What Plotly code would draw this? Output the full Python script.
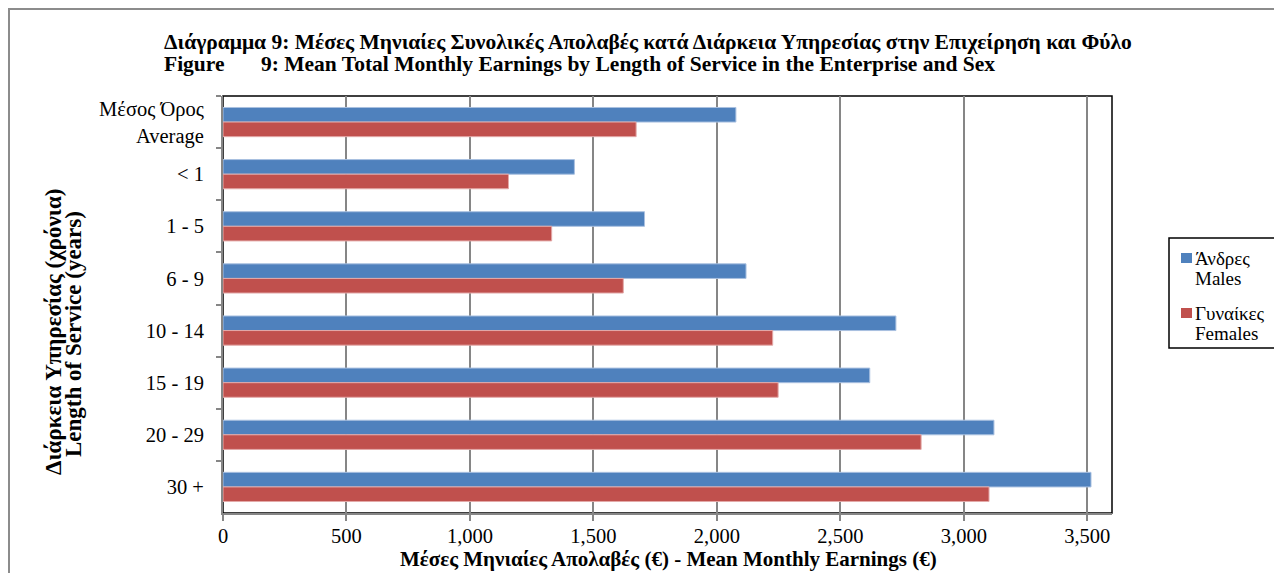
import plotly.graph_objects as go

# --------------------------------
# Data
# --------------------------------
CATEGORIES = ["Μέσος Όρος<br>Average", "< 1", "1 - 5", "6 - 9", "10 - 14", "15 - 19", "20 - 29", "30 +"]
MALES      = [2077, 1423, 1707, 2118, 2725, 2619, 3122, 3515]
FEMALES    = [1673, 1156, 1331, 1621, 2226, 2248, 2827, 3102]
X_TICKS    = [0, 500, 1000, 1500, 2000, 2500, 3000, 3500]
SERIES     = ["Άνδρες<br>Males", "Γυναίκες<br>Females"]

# --------------------------------
# Config
# --------------------------------
OFF = 8                      # page body margin
W, H = 1282 - OFF, 573 - OFF
L, R, T, B = 223 - OFF, W - (1112 - OFF), 96 - OFF, H - (513 - OFF)
FONT = "Liberation Serif"
GRID = "#868686"
BLUE = "#4F81BD"
RED  = "#C0504D"

PW = W - L - R
PH = H - T - B


def px_x(x):
    """page pixel x -> paper coordinate"""
    return (x - OFF - L) / PW


def px_y(y):
    """page pixel y -> paper coordinate"""
    return (H - B - (y - OFF)) / PH


fig = go.Figure()
fig.add_trace(go.Bar(
    name=SERIES[0], y=CATEGORIES, x=MALES, orientation="h",
    marker=dict(color=BLUE, line=dict(color="#a9c0e0", width=1)),
))
fig.add_trace(go.Bar(
    name=SERIES[1], y=CATEGORIES, x=FEMALES, orientation="h",
    marker=dict(color=RED, line=dict(color="#e3a9a8", width=1)),
))

# plot-area frame (black) and outer gray frame
fig.add_shape(type="rect", xref="paper", yref="paper", x0=0, x1=1, y0=0, y1=1,
              line=dict(color="black", width=1.5), layer="below")
fig.add_shape(type="rect", xref="paper", yref="paper",
              x0=px_x(OFF + 1), x1=px_x(1300), y0=px_y(600), y1=px_y(OFF + 1),
              line=dict(color="#8c8c8c", width=2), layer="below")

# title: two left-aligned lines
title_font = dict(family=FONT, size=21.5, color="black")
fig.add_annotation(x=px_x(162), y=px_y(42), xref="paper", yref="paper",
                   xanchor="left", yanchor="middle", showarrow=False,
                   text="<b>Διάγραμμα 9: Μέσες Μηνιαίες Συνολικές Απολαβές κατά Διάρκεια Υπηρεσίας στην Επιχείρηση και Φύλο</b>",
                   font=title_font)
fig.add_annotation(x=px_x(162), y=px_y(64), xref="paper", yref="paper",
                   xanchor="left", yanchor="middle", showarrow=False,
                   text="<b>Figure</b>", font=title_font)
fig.add_annotation(x=px_x(259), y=px_y(64), xref="paper", yref="paper",
                   xanchor="left", yanchor="middle", showarrow=False,
                   text="<b>9: Mean Total Monthly Earnings by Length of Service in the Enterprise and Sex</b>",
                   font=title_font)

# y-axis title (rotated, two lines)
ytitle_font = dict(family=FONT, size=23, color="black")
fig.add_annotation(x=px_x(53), y=px_y(332), xref="paper", yref="paper",
                   xanchor="center", yanchor="middle", showarrow=False, textangle=-90,
                   text="<b>Διάρκεια Υπηρεσίας (χρόνια)</b>", font=ytitle_font)
fig.add_annotation(x=px_x(73), y=px_y(334), xref="paper", yref="paper",
                   xanchor="center", yanchor="middle", showarrow=False, textangle=-90,
                   text="<b>Length of Service (years)</b>", font=ytitle_font)

# x-axis title
fig.add_annotation(x=px_x(668), y=px_y(559), xref="paper", yref="paper",
                   xanchor="center", yanchor="middle", showarrow=False,
                   text="<b>Μέσες Μηνιαίες Απολαβές (€) - Mean Monthly Earnings (€)</b>",
                   font=dict(family=FONT, size=21, color="black"))

# legend drawn by hand (box, swatches, two-line labels)
fig.add_shape(type="rect", xref="paper", yref="paper",
              x0=px_x(1169), x1=px_x(1276), y0=px_y(348), y1=px_y(238),
              line=dict(color="black", width=1.5), fillcolor="white")
for name, color, top in [(SERIES[0], BLUE, 253), (SERIES[1], RED, 308)]:
    fig.add_shape(type="rect", xref="paper", yref="paper",
                  x0=px_x(1181), x1=px_x(1192), y0=px_y(top + 10), y1=px_y(top),
                  line=dict(width=0), fillcolor=color)
    for i, line in enumerate(name.split("<br>")):
        fig.add_annotation(x=px_x(1193), y=px_y(top + 5 + i * 20), xref="paper", yref="paper",
                           xanchor="left", yanchor="middle", showarrow=False,
                           text=line, font=dict(family=FONT, size=19, color="black"))

fig.update_layout(
    width=W, height=H,
    margin=dict(l=L, r=R, t=T, b=B),
    paper_bgcolor="white", plot_bgcolor="white",
    barmode="group", bargap=0.44, bargroupgap=0,
    font=dict(family=FONT, size=20.5, color="black"),
    showlegend=False,
    xaxis=dict(
        range=[0, 3600], tickvals=X_TICKS, tickformat=",d",
        showgrid=True, gridcolor=GRID, gridwidth=1.5,
        zeroline=False,
        showline=True, linecolor=GRID, linewidth=2,
        ticks="outside", ticklen=6, tickcolor=GRID, tickwidth=1.5,
        ticklabelstandoff=-3,
        fixedrange=True,
    ),
    yaxis=dict(
        autorange="reversed", type="category",
        showgrid=False, zeroline=False,
        showline=True, linecolor=GRID, linewidth=2,
        ticks="outside", ticklen=5, tickcolor=GRID, tickwidth=1.5,
        tickson="boundaries", ticklabelstandoff=13,
        fixedrange=True,
    ),
)

fig.write_html("out.html")
